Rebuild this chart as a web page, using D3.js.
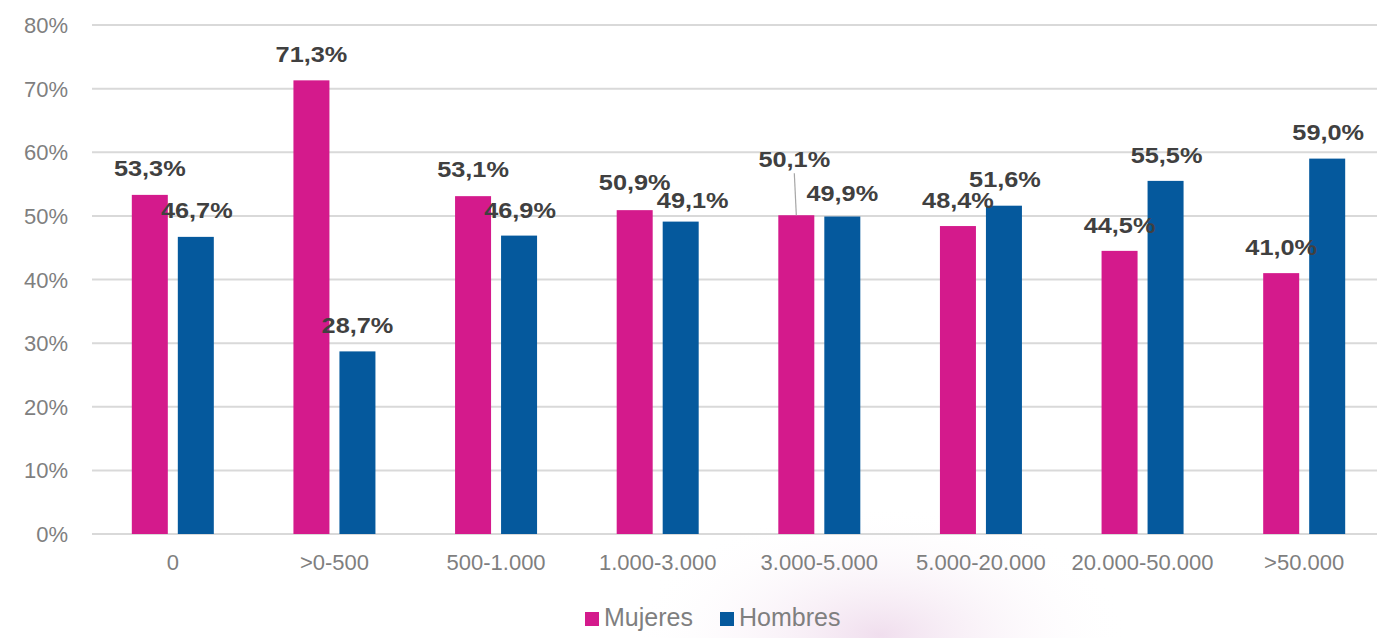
<!DOCTYPE html>
<html><head><meta charset="utf-8">
<script src="https://cdn.jsdelivr.net/npm/d3@7"></script>
<style>html,body{margin:0;padding:0;background:#fff;overflow:hidden}</style>
</head><body>
<svg id="c" width="1377" height="638"></svg>
<script>
const categories = ["0", ">0-500", "500-1.000", "1.000-3.000", "3.000-5.000", "5.000-20.000", "20.000-50.000", ">50.000"];
const mujeres = [53.3, 71.3, 53.1, 50.9, 50.1, 48.4, 44.5, 41.0];
const hombres = [46.7, 28.7, 46.9, 49.1, 49.9, 51.6, 55.5, 59.0];
const seriesNames = ["Mujeres", "Hombres"];
const yTicks = [0, 10, 20, 30, 40, 50, 60, 70, 80];
// label nudges (layout only)
const mujeresLabelNudge = [[0,-19],[0,-18],[0,-19],[0,-20],[-2,-48],[0,-18],[0,-18],[0,-18]];
const hombresLabelNudge = [[1,-19],[0,-18],[1,-18],[12,-14],[0,-16],[1,-19],[1,-18],[1,-19]];

const colors = {Mujeres:"#D41A8C", Hombres:"#05599D"};
const svg = d3.select("#c");

// faint background glow
const defs = svg.append("defs");
const rg = defs.append("radialGradient").attr("id","glow").attr("cx","50%").attr("cy","50%").attr("r","50%");
rg.append("stop").attr("offset","0%").attr("stop-color","#e6c8e2").attr("stop-opacity",0.6);
rg.append("stop").attr("offset","100%").attr("stop-color","#ffffff").attr("stop-opacity",0);
svg.append("ellipse").attr("cx",880).attr("cy",635).attr("rx",250).attr("ry",130).attr("fill","url(#glow)");

const x = d3.scaleBand().domain(categories).range([92, 1385]).paddingInner(0).paddingOuter(0);
const y = d3.scaleLinear().domain([0, 80]).range([534, 25]);

// grid
svg.append("g").selectAll("line").data(yTicks).join("line")
  .attr("x1", 92).attr("x2", 1377)
  .attr("y1", d => y(d)).attr("y2", d => y(d))
  .attr("stroke", "#d9d9d9").attr("stroke-width", 2);

// y tick labels
svg.append("g").selectAll("text").data(yTicks).join("text")
  .attr("x", 68).attr("y", d => y(d) + 8)
  .attr("text-anchor", "end")
  .attr("font-family", "Liberation Sans, Arial, sans-serif")
  .attr("font-size", 22).attr("fill", "#7f7f7f")
  .text(d => d + "%");

// x labels
svg.append("g").selectAll("text").data(categories).join("text")
  .attr("x", d => x(d) + x.bandwidth()/2).attr("y", 570)
  .attr("text-anchor", "middle")
  .attr("font-family", "Liberation Sans, Arial, sans-serif")
  .attr("font-size", 22).attr("fill", "#7f7f7f")
  .text(d => d);

const barW = 36, gap = 10;
const sub = d3.scaleOrdinal().domain(seriesNames).range([-(gap/2 + barW), gap/2]);
const seriesData = [
  {name:"Mujeres", values: mujeres, nudge: mujeresLabelNudge},
  {name:"Hombres", values: hombres, nudge: hombresLabelNudge}
];

seriesData.forEach(s => {
  const cx = (i) => x(categories[i]) + x.bandwidth()/2 + sub(s.name);
  svg.append("g").selectAll("rect").data(s.values).join("rect")
    .attr("x", (d,i) => cx(i)).attr("width", barW)
    .attr("y", d => y(d)).attr("height", d => y(0) - y(d))
    .attr("fill", colors[s.name]);
});

const fmt = v => v.toFixed(1).replace(".", ",") + "%";
seriesData.forEach(s => {
  const cx = (i) => x(categories[i]) + x.bandwidth()/2 + sub(s.name) + barW/2;
  const g = svg.append("g");
  s.values.forEach((v,i) => {
    const [dx, dy] = s.nudge[i];
    if (dy < -30) {
      g.append("line")
        .attr("x1", cx(i) - 2).attr("y1", y(v) + dy + 6)
        .attr("x2", cx(i)).attr("y2", y(v))
        .attr("stroke", "#a6a6a6").attr("stroke-width", 1.2);
    }
    g.append("text")
      .attr("transform", `translate(${cx(i)+dx},${y(v)+dy}) scale(1.15,1)`)
      .attr("text-anchor", "middle")
      .attr("font-family", "Liberation Sans, Arial, sans-serif")
      .attr("font-weight", "bold")
      .attr("font-size", 22).attr("fill", "#404040")
      .text(fmt(v));
  });
});

// legend
const leg = svg.append("g");
const legX = [585, 720];
seriesNames.forEach((n,i) => {
  leg.append("rect").attr("x", legX[i]).attr("y", 612).attr("width", 14).attr("height", 14).attr("fill", colors[n]);
  leg.append("text").attr("x", legX[i] + 19).attr("y", 626)
    .attr("font-family", "Liberation Sans, Arial, sans-serif")
    .attr("font-size", 25).attr("fill", "#7f7f7f")
    .text(n);
});
</script>
</body></html>
